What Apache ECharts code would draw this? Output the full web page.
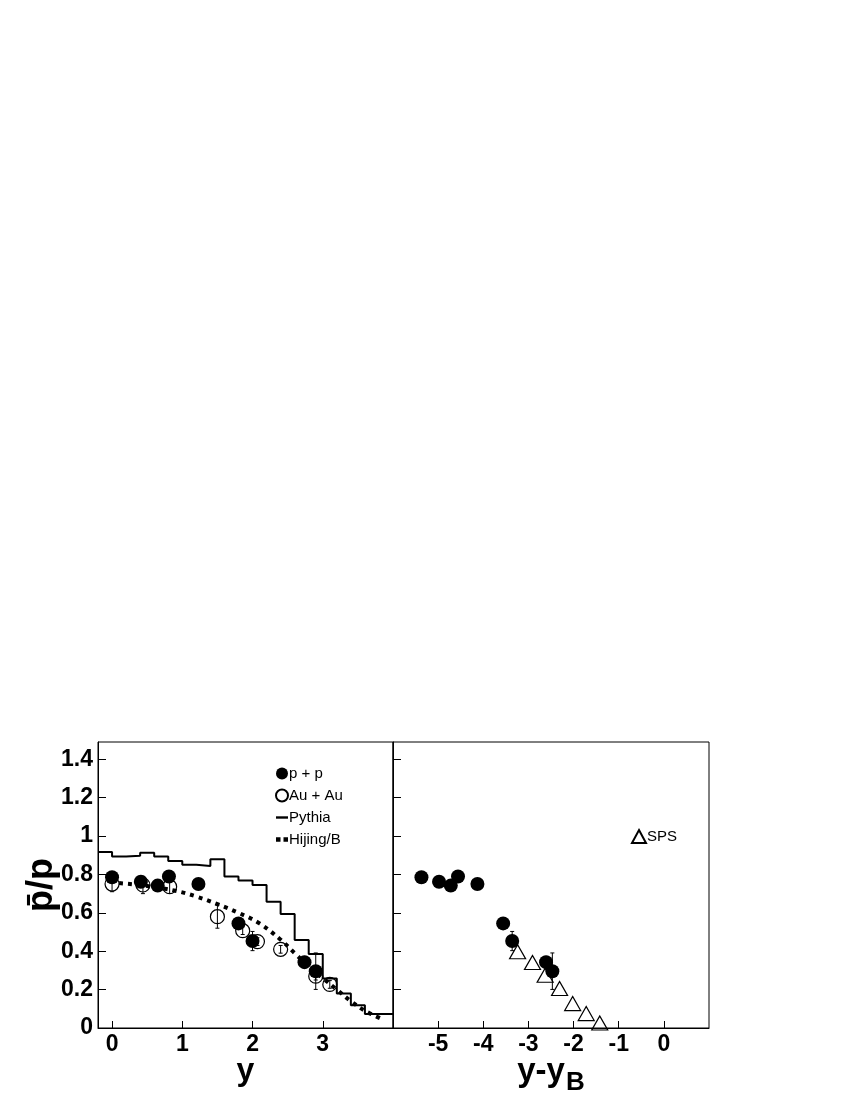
<!DOCTYPE html>
<html>
<head>
<meta charset="utf-8">
<script src="https://cdn.jsdelivr.net/npm/echarts@6/dist/echarts.min.js"></script>
<style>
  html, body { margin: 0; padding: 0; background: #fff; }
  #chart { width: 850px; height: 1100px; }
</style>
</head>
<body>
<div id="chart"></div>
<script>
// p + p, left panel (y) and right panel (y - yB)
const ppY = [0.0, 0.41, 0.65, 0.81, 1.23, 1.80, 2.00, 2.74, 2.90];
const ppYmYB = [-5.37, -4.98, -4.72, -4.56, -4.13, -3.56, -3.36, -2.61, -2.47];
const ppRatio = [0.785, 0.762, 0.742, 0.789, 0.750, 0.545, 0.453, 0.343, 0.296];
const ppErr = [0.01, 0.01, 0.01, 0.01, 0.01, 0.02, 0.05, 0.03, 0.095];

// Au + Au
const auY = [0.0, 0.44, 0.82, 1.50, 1.86, 2.07, 2.40, 2.90, 3.10];
const auRatio = [0.750, 0.745, 0.736, 0.580, 0.507, 0.450, 0.410, 0.270, 0.227];
const auErr = [0.04, 0.045, 0.035, 0.06, 0.02, 0.02, 0.02, 0.02, 0.02];

// Pythia histogram (bin edges + bin contents)
const pythiaEdges = [-0.2, 0.0, 0.2, 0.4, 0.6, 0.8, 1.0, 1.2, 1.4, 1.6, 1.8, 2.0,
  2.2, 2.4, 2.6, 2.8, 3.0, 3.2, 3.4, 3.6, 3.8, 4.0];
const pythiaVals = [0.917, 0.893, 0.897, 0.913, 0.893, 0.870, 0.851, 0.844, 0.879, 0.789,
  0.768, 0.745, 0.658, 0.594, 0.458, 0.385, 0.258, 0.180, 0.118, 0.073, 0.073];

// Hijing/B curve
const hijingY = [0.1, 0.5, 0.9, 1.2, 1.5, 1.8, 2.1, 2.4, 2.6, 2.8, 3.0, 3.2, 3.4, 3.6, 3.85];
const hijingRatio = [0.755, 0.740, 0.715, 0.685, 0.645, 0.600, 0.545, 0.460, 0.390, 0.320,
  0.260, 0.200, 0.140, 0.090, 0.045];

// SPS
const spsX = [-3.24, -2.91, -2.63, -2.31, -2.02, -1.72, -1.42];
const spsRatio = [0.397, 0.341, 0.275, 0.206, 0.127, 0.075, 0.026];

// ticks
const yTicks = [0, 0.2, 0.4, 0.6, 0.8, 1, 1.2, 1.4];
const xTicksLeft = [0, 1, 2, 3];
const xTicksRight = [-5, -4, -3, -2, -1, 0];

const FONT = "'Liberation Sans', Arial, Helvetica, sans-serif";

const pts = (xs, ys) => xs.map((x, i) => [x, ys[i]]);
const errs = (xs, ys, es) => xs.map((x, i) => [x, ys[i] - es[i], ys[i] + es[i]]);

const pythiaData = pythiaVals.map((v, i) => [pythiaEdges[i], v]);
pythiaData.push([pythiaEdges[pythiaEdges.length - 1], pythiaVals[pythiaVals.length - 1]]);

function renderErr(params, api) {
  const x = api.value(0);
  const lo = api.coord([x, api.value(1)]);
  const hi = api.coord([x, api.value(2)]);
  const c = 2;
  const st = { stroke: '#000', lineWidth: 1 };
  return {
    type: 'group',
    children: [
      { type: 'line', shape: { x1: lo[0], y1: lo[1], x2: hi[0], y2: hi[1] }, style: st },
      { type: 'line', shape: { x1: lo[0] - c, y1: lo[1], x2: lo[0] + c, y2: lo[1] }, style: st },
      { type: 'line', shape: { x1: hi[0] - c, y1: hi[1], x2: hi[0] + c, y2: hi[1] }, style: st }
    ]
  };
}

function xAxisCfg(idx, min, max, ticks, name) {
  return {
    type: 'value', gridIndex: idx, min: min, max: max,
    axisLine: { show: true, onZero: false, lineStyle: { color: '#000', width: 1 } },
    axisTick: { show: true, inside: true, length: 7, customValues: ticks,
      lineStyle: { color: '#000', width: 1 } },
    axisLabel: { customValues: ticks, color: '#000', fontSize: 23, fontWeight: 'bold',
      fontFamily: FONT, margin: 5 },
    splitLine: { show: false },
    name: name, nameLocation: 'middle', nameGap: 20, nameMoveOverlap: false
  };
}

function yAxisCfg(idx, showLabels) {
  return {
    type: 'value', gridIndex: idx, min: 0, max: 1.49,
    axisLine: { show: true, onZero: false, lineStyle: { color: '#000', width: 1 } },
    axisTick: { show: true, inside: true, length: 8, customValues: yTicks,
      lineStyle: { color: '#000', width: 1 } },
    axisLabel: { show: showLabels, customValues: yTicks, color: '#000', fontSize: 23,
      fontWeight: 'bold', fontFamily: FONT, margin: 5 },
    splitLine: { show: false }
  };
}

const xLeft = xAxisCfg(0, -0.2, 4.0, xTicksLeft, 'y');
xLeft.nameTextStyle = { fontSize: 32, fontWeight: 'bold', color: '#000', fontFamily: FONT };
xLeft.nameGap = 27;

const xRight = xAxisCfg(1, -6, 1, xTicksRight, '{a|y-y}{b|B}');
xRight.nameGap = 20;
xRight.nameTextStyle = {
  fontFamily: FONT, color: '#000',
  rich: {
    a: { fontSize: 33, fontWeight: 'bold', fontFamily: FONT, color: '#000' },
    b: { fontSize: 26, fontWeight: 'bold', fontFamily: FONT, color: '#000', padding: [22, 0, 0, 1] }
  }
};

const yLeft = yAxisCfg(0, true);
yLeft.name = 'p\u0304/p';
yLeft.nameLocation = 'middle';
yLeft.nameGap = 38;
yLeft.nameMoveOverlap = false;
yLeft.nameTextStyle = { fontSize: 36, fontWeight: 'bold', color: '#000', fontFamily: FONT };

const yRight = yAxisCfg(1, false);

const legendText = { fontSize: 15, color: '#000', fontFamily: FONT };

const option = {
  backgroundColor: '#fff',
  animation: false,
  grid: [
    { left: 98, top: 742, width: 295, height: 286, show: true, borderColor: '#000', borderWidth: 1 },
    { left: 393, top: 742, width: 316, height: 286, show: true, borderColor: '#000', borderWidth: 1 }
  ],
  xAxis: [xLeft, xRight],
  yAxis: [yLeft, yRight],
  legend: [
    {
      data: [
        { name: 'p + p', icon: 'circle' },
        { name: 'Au + Au', icon: 'circle' },
        { name: 'Pythia', icon: 'path://M0,0 L8,0 L8,1.6 L0,1.6 Z' },
        { name: 'Hijing/B', icon: 'path://M0,0 L3,0 L3,3 L0,3 Z M5,0 L8,0 L8,3 L5,3 Z' }
      ],
      orient: 'vertical', left: 275, top: 766, padding: 0,
      itemWidth: 12, itemHeight: 12, itemGap: 7, selectedMode: false,
      textStyle: Object.assign({ padding: [0, 0, 0, -4] }, legendText)
    },
    {
      data: [{ name: 'SPS', icon: 'triangle' }],
      left: 631, top: 829, padding: 0,
      itemWidth: 14, itemHeight: 13, selectedMode: false,
      textStyle: Object.assign({ padding: [-5, 0, 0, -4] }, legendText)
    }
  ],
  series: [
    {
      name: 'Pythia', type: 'line', xAxisIndex: 0, yAxisIndex: 0,
      data: pythiaData, step: 'end', symbol: 'none', z: 2,
      lineStyle: { color: '#000', width: 2 }, itemStyle: { color: '#000' }
    },
    {
      name: 'Hijing/B', type: 'line', xAxisIndex: 0, yAxisIndex: 0,
      data: pts(hijingY, hijingRatio), smooth: 0.4, symbol: 'none', z: 3,
      lineStyle: { color: '#000', width: 4, type: [4, 5], cap: 'butt' }, itemStyle: { color: '#000' }
    },
    {
      type: 'custom', xAxisIndex: 0, yAxisIndex: 0, renderItem: renderErr, z: 4,
      encode: { x: 0, y: [1, 2] }, data: errs(auY, auRatio, auErr)
    },
    {
      name: 'Au + Au', type: 'scatter', xAxisIndex: 0, yAxisIndex: 0,
      data: pts(auY, auRatio), symbol: 'circle', symbolSize: 14, z: 5,
      itemStyle: { color: 'rgba(255,255,255,0)', borderColor: '#000', borderWidth: 1.2, opacity: 1 }
    },
    {
      type: 'custom', xAxisIndex: 0, yAxisIndex: 0, renderItem: renderErr, z: 6,
      encode: { x: 0, y: [1, 2] }, data: errs(ppY, ppRatio, ppErr)
    },
    {
      name: 'p + p', type: 'scatter', xAxisIndex: 0, yAxisIndex: 0,
      data: pts(ppY, ppRatio), symbol: 'circle', symbolSize: 14, z: 7,
      itemStyle: { color: '#000', opacity: 1 }
    },
    {
      name: 'SPS', type: 'scatter', xAxisIndex: 1, yAxisIndex: 1,
      data: pts(spsX, spsRatio), symbol: 'triangle', symbolSize: [16, 14], z: 5,
      itemStyle: { color: 'rgba(255,255,255,0)', borderColor: '#000', borderWidth: 1.2, opacity: 1 }
    },
    {
      type: 'custom', xAxisIndex: 1, yAxisIndex: 1, renderItem: renderErr, z: 6,
      encode: { x: 0, y: [1, 2] }, data: errs(ppYmYB, ppRatio, ppErr)
    },
    {
      name: 'p + p', type: 'scatter', xAxisIndex: 1, yAxisIndex: 1,
      data: pts(ppYmYB, ppRatio), symbol: 'circle', symbolSize: 14, z: 7,
      itemStyle: { color: '#000', opacity: 1 }
    }
  ]
};

const chart = echarts.init(document.getElementById('chart'));
chart.setOption(option);
</script>
</body>
</html>
